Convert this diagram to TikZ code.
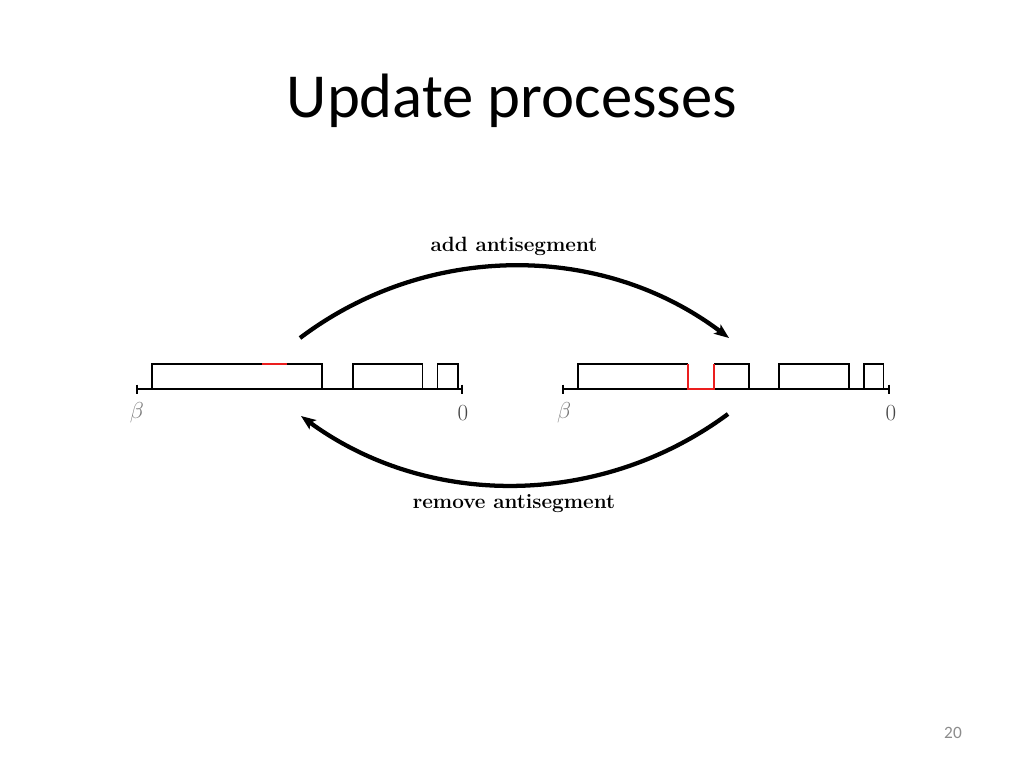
\documentclass[tikz,border=0pt]{standalone}
\usepackage{fontspec}
\usepackage{amsmath}
\usepackage{xcolor}
\usetikzlibrary{arrows.meta}
\newfontfamily\slidefont{Carlito}
\definecolor{betagray}{RGB}{120,120,120}
\definecolor{zerogray}{RGB}{70,70,70}
\definecolor{pagegray}{RGB}{140,140,140}
\definecolor{antired}{RGB}{235,30,30}

\begin{document}
\begin{tikzpicture}[x=0.75pt,y=0.75pt,yscale=-1,xscale=1,
    seg/.style={line width=1.1pt,line join=miter},
    antiseg/.style={seg,draw=antired},
    axislabel/.style={inner sep=0.75pt,font=\fontsize{18}{21}\selectfont},
    movelabel/.style={inner sep=0.75pt,font=\fontsize{15.5}{18}\selectfont\bfseries},
    movearrow/.style={line width=3.2pt,-{Stealth[length=11pt,width=8.5pt,inset=2.5pt]}}]
				\useasboundingbox (0,0) rectangle (1024,768);
				
				% Title
				\draw (512,101) node (title) [inner sep=0pt] [font=\fontsize{47}{56}\slidefont] {Update processes};
				% Page number
				\draw (953,733) node (pagenum) [inner sep=0pt] [font=\fontsize{13}{15}\slidefont, text=pagegray] {20};
				
				%Shape: Axis left
				\draw [seg] (137,389) -- (462,389) ;
				\draw [seg] (137,384.5) -- (137,393.5) ;
				\draw [seg] (462,384.5) -- (462,393.5) ;
				%Shape: Segments left
				\draw [seg] (152,389) -- (152,364) -- (322,364) -- (322,389) ;
				\draw [seg] (353,389) -- (353,364) -- (422.5,364) -- (422.5,389) ;
				\draw [seg] (437.5,389) -- (437.5,364) -- (458,364) -- (458,389) ;
				%Shape: Antisegment left
				\draw [antiseg] (262,364) -- (287,364) ;
				
				%Shape: Axis right
				\draw [seg] (563,389) -- (889,389) ;
				\draw [seg] (563,384.5) -- (563,393.5) ;
				\draw [seg] (889,384.5) -- (889,393.5) ;
				%Shape: Segments right
				\draw [seg] (578,389) -- (578,364) -- (688,364) ;
				\draw [seg] (714,364) -- (749,364) -- (749,389) ;
				\draw [seg] (779,389) -- (779,364) -- (849,364) -- (849,389) ;
				\draw [seg] (864,389) -- (864,364) -- (883.5,364) -- (883.5,389) ;
				%Shape: Antisegment right
				\draw [antiseg] (688,364) -- (688,389) -- (714,389) -- (714,364) ;
				
				% Text Node
				\draw (137,413) node (betaL) [axislabel, text=betagray] {$\beta$};
				% Text Node
				\draw (463,413) node (zeroL) [axislabel, text=zerogray] {$0$};
				% Text Node
				\draw (564,413) node (betaR) [axislabel, text=betagray] {$\beta$};
				% Text Node
				\draw (891,413) node (zeroR) [axislabel, text=zerogray] {$0$};
				
				% Arrow: add
				\coordinate (addfrom) at (300,338);
				\coordinate (addto) at (729,338);
				\draw [movearrow] (addfrom) .. controls (427,242) and (602,242) .. (addto) ;
				\draw (514,246) node (addlabel) [movelabel] {add antisegment};
				
				% Arrow: remove
				\coordinate (removefrom) at (728,414);
				\coordinate (removeto) at (301,416);
				\draw [movearrow] (removefrom) .. controls (601,508) and (428,509) .. (removeto) ;
				\draw (514,504) node (removelabel) [movelabel] {remove antisegment};
				
			\end{tikzpicture}
\end{document}
